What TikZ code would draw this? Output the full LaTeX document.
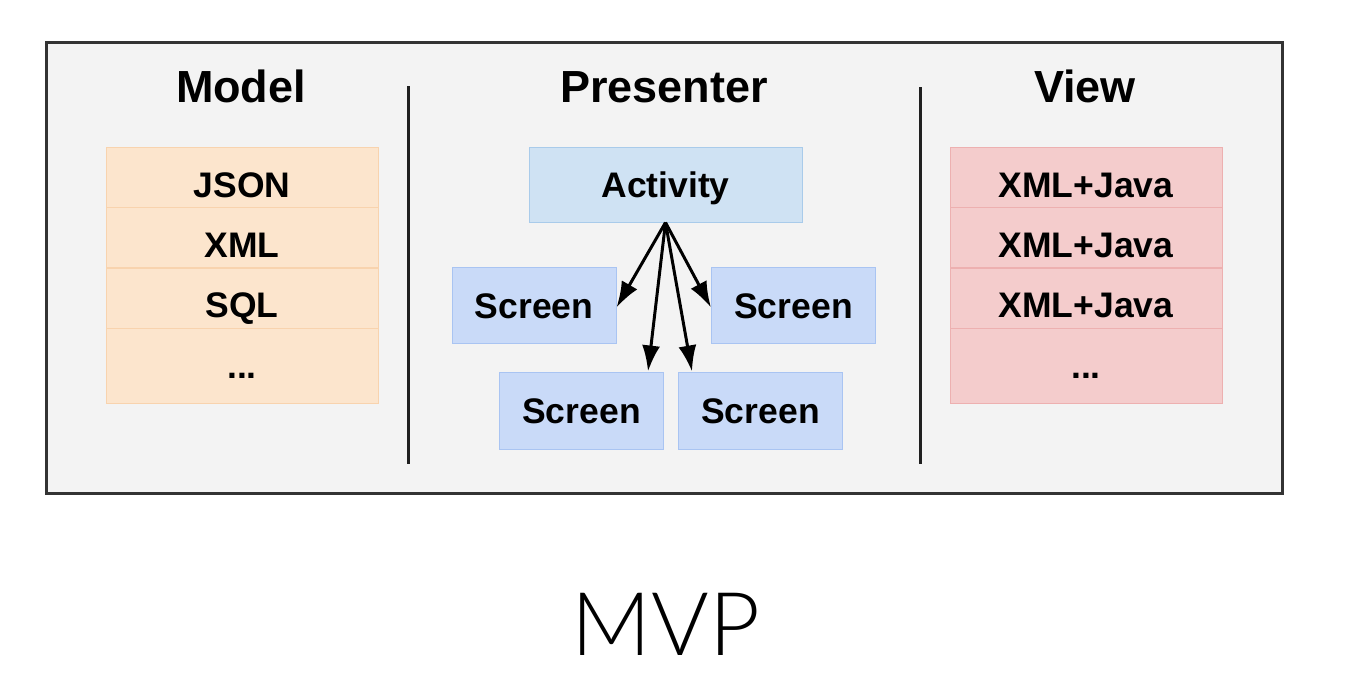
\documentclass[tikz,border=0pt]{standalone}
\usepackage{fontspec}
\setmainfont{Liberation Sans}
\newfontfamily\thinfont{Lato Light}
\usetikzlibrary{arrows.meta}
\definecolor{bgframe}{HTML}{F3F3F3}
\definecolor{framecol}{HTML}{333333}
\definecolor{peach}{HTML}{FCE5CD}
\definecolor{peachline}{HTML}{F8D3AE}
\definecolor{pink}{HTML}{F4CCCC}
\definecolor{pinkline}{HTML}{EDB0B0}
\definecolor{actfill}{HTML}{CFE2F3}
\definecolor{actline}{HTML}{A9CBEA}
\definecolor{scrfill}{HTML}{C9DAF8}
\definecolor{scrline}{HTML}{A9C4F2}
\tikzset{
  heading/.style={font=\fontsize{45}{50}\selectfont\bfseries, anchor=base, inner sep=0},
  rowbox/.style={rectangle, minimum width=272pt, minimum height=60pt, inner sep=0,
     font=\fontsize{35.5}{40}\selectfont\bfseries, text height=39.4pt, text depth=0pt},
  mrow/.style={rowbox, fill=peach, draw=peachline, line width=1pt},
  vrow/.style={rowbox, fill=pink, draw=pinkline, line width=1pt},
  actbox/.style={rectangle, inner sep=0, fill=actfill, draw=actline, line width=1pt,
     font=\fontsize{35.5}{40}\selectfont\bfseries, text height=25.4pt, text depth=0pt},
  scrbox/.style={rectangle, inner sep=0, minimum width=164pt, minimum height=76pt,
     fill=scrfill, draw=scrline, line width=1pt, font=\fontsize{35.5}{40}\selectfont\bfseries,
     text height=25.4pt, text depth=0pt},
  divider/.style={line width=3pt, draw=black!88},
  flow/.style={line width=3pt, -{Latex[length=26pt,width=18pt]}},
}
\begin{document}
\begin{tikzpicture}[x=1pt,y=-1pt]
\useasboundingbox (0,0) rectangle (1367,672);
\fill[white] (0,0) rectangle (1367,672);
% frame
\node[rectangle, draw=framecol, fill=bgframe, line width=3pt, inner sep=0,
      minimum width=1236pt, minimum height=451pt] (frame) at (664,268) {};
% dividers
\coordinate (d1t) at (408,86);
\coordinate (d1b) at (408,464);
\coordinate (d2t) at (920,87);
\coordinate (d2b) at (920,464);
\draw[divider] (d1t) -- (d1b);
\draw[divider] (d2t) -- (d2b);
% headings
\node[heading] (hm) at (241,102) {Model};
\node[heading] (hp) at (664,102) {Presenter};
\node[heading] (hv) at (1085,102) {View};
% model column
\node[mrow] (m1) at (242,177.5) {JSON};
\node[mrow] (m2) at (242,237.5) {XML};
\node[mrow] (m3) at (242,298) {SQL};
\node[mrow, minimum height=75pt, text height=25pt] (m4) at (242,365.5) {...};
% view column
\node[vrow] (v1) at (1086,177.5) {XML+Java};
\node[vrow] (v2) at (1086,237.5) {XML+Java};
\node[vrow] (v3) at (1086,298) {XML+Java};
\node[vrow, minimum height=75pt, text height=25pt] (v4) at (1086,365.5) {...};
% presenter
\node[actbox, minimum width=273pt, minimum height=75pt] (act) at (665.5,184.5) {Activity};
\node[scrbox] (s1) at (534,305.5) {Screen};
\node[scrbox] (s2) at (793.5,305.5) {Screen};
\node[scrbox, minimum height=77pt] (s3) at (581.5,410.5) {Screen};
\node[scrbox, minimum height=77pt] (s4) at (760.5,410.5) {Screen};
\draw[flow] (act.south) -- ([yshift=-2pt]s1.east);
\draw[flow] (act.south) -- ([yshift=-2pt]s2.west);
\draw[flow] (act.south) -- ([xshift=-16pt]s3.north east);
\draw[flow] (act.south) -- ([xshift=14pt]s4.north west);
% caption
\node[font=\thinfont\fontsize{88}{96}\selectfont, anchor=base, inner sep=0] (cap) at (666,655) {MVP};
\end{tikzpicture}
\end{document}
